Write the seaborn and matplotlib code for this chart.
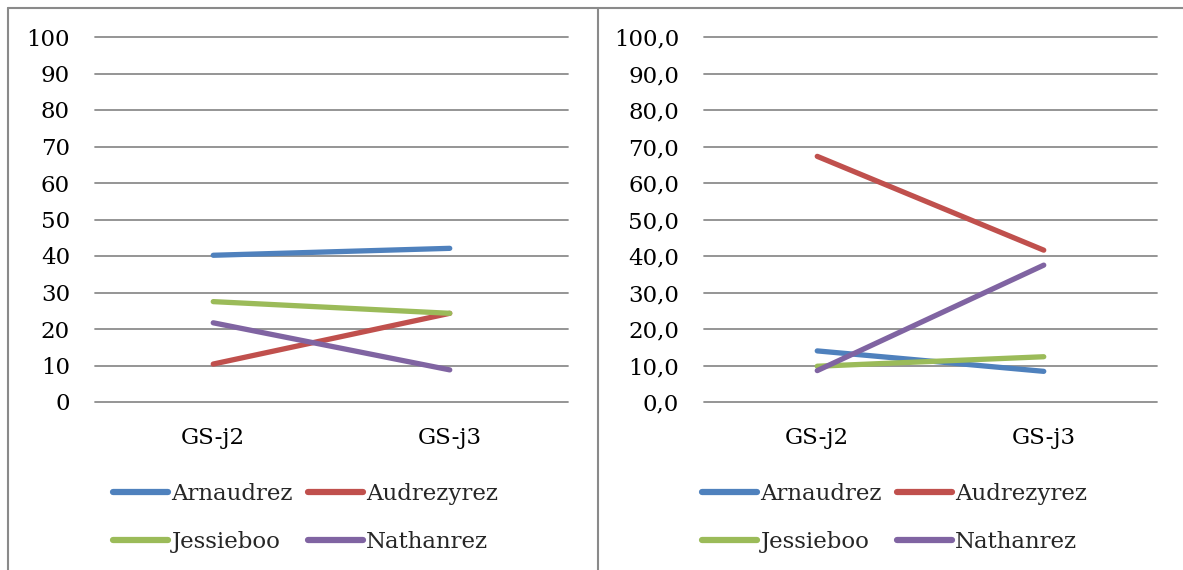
import matplotlib
matplotlib.use("Agg")
import matplotlib.pyplot as plt
import seaborn as sns
import pandas as pd
from matplotlib.lines import Line2D

# ---- data ----
categories = ["GS-j2", "GS-j3"]
students = ["Arnaudrez", "Audrezyrez", "Jessieboo", "Nathanrez"]
left_values = {
    "Arnaudrez": [40.2, 42.1],
    "Audrezyrez": [10.4, 24.3],
    "Jessieboo": [27.5, 24.3],
    "Nathanrez": [21.7, 8.8],
}
right_values = {
    "Arnaudrez": [14.0, 8.4],
    "Audrezyrez": [67.3, 41.6],
    "Jessieboo": [9.8, 12.4],
    "Nathanrez": [8.6, 37.5],
}
yticks = [0, 10, 20, 30, 40, 50, 60, 70, 80, 90, 100]
left_yticklabels = ["0", "10", "20", "30", "40", "50", "60", "70", "80", "90", "100"]
right_yticklabels = ["0,0", "10,0", "20,0", "30,0", "40,0", "50,0", "60,0",
                     "70,0", "80,0", "90,0", "100,0"]
colors = ["#4F81BD", "#C0504D", "#9BBB59", "#8064A2"]

sns.set_theme(style="white")
plt.rcParams["font.family"] = ["DejaVu Serif"]
FS = 16.5

W, H = 1183, 570
fig = plt.figure(figsize=(W / 100, H / 100), dpi=100)


def long_df(values):
    rows = []
    for s in students:
        for i, c in enumerate(categories):
            rows.append({"cat": i, "student": s, "value": values[s][i]})
    return pd.DataFrame(rows)


def make_panel(rect, values, yticklabels, legend_anchor):
    ax = fig.add_axes(rect)
    df = long_df(values)
    sns.lineplot(data=df, x="cat", y="value", hue="student", hue_order=students,
                 palette=colors, linewidth=3.8, ax=ax, legend=False,
                 solid_capstyle="round")
    ax.set_xlim(-0.5, 1.5)
    ax.set_ylim(0, 100)
    ax.set_yticks(yticks)
    ax.set_yticklabels(yticklabels, fontsize=FS, color="black")
    ax.set_xticks(range(len(categories)))
    ax.set_xticklabels(categories, fontsize=FS, color="black")
    ax.set_xlabel("")
    ax.set_ylabel("")
    ax.tick_params(axis="y", length=0, pad=18)
    ax.tick_params(axis="x", length=0, pad=18)
    ax.grid(axis="y", color="#8c8c8c", linewidth=1.3)
    ax.grid(axis="x", visible=False)
    ax.set_axisbelow(True)
    for gl in ax.get_ygridlines():
        gl.set_clip_on(False)
    for sp in ax.spines.values():
        sp.set_visible(False)
    # row-major legend order (matplotlib fills columns first)
    order = [0, 2, 1, 3]
    handles = [Line2D([], [], color=colors[i], linewidth=4.5, solid_capstyle="round") for i in order]
    labels = [students[i] for i in order]
    fig.legend(handles, labels, loc="upper left", bbox_to_anchor=legend_anchor,
               ncol=2, frameon=False, fontsize=FS, handlelength=2.4,
               handletextpad=0.15, columnspacing=0.65, labelspacing=1.15,
               borderpad=0, borderaxespad=0)
    return ax


make_panel([95 / W, 1 - 402 / H, 473 / W, 365 / H], left_values, left_yticklabels,
           (113 / W, 1 - 483 / H))
make_panel([704 / W, 1 - 402 / H, 453 / W, 365 / H], right_values, right_yticklabels,
           (702 / W, 1 - 483 / H))

# panel borders
bc = "#8a8a8a"
fig.add_artist(Line2D([8 / W, 1], [1 - 8 / H, 1 - 8 / H], transform=fig.transFigure, color=bc, lw=1.5))
fig.add_artist(Line2D([8 / W, 8 / W], [0, 1 - 8 / H], transform=fig.transFigure, color=bc, lw=1.5))
fig.add_artist(Line2D([598 / W, 598 / W], [0, 1 - 8 / H], transform=fig.transFigure, color=bc, lw=1.5))

fig.savefig("out.png", dpi=100, facecolor="white")
